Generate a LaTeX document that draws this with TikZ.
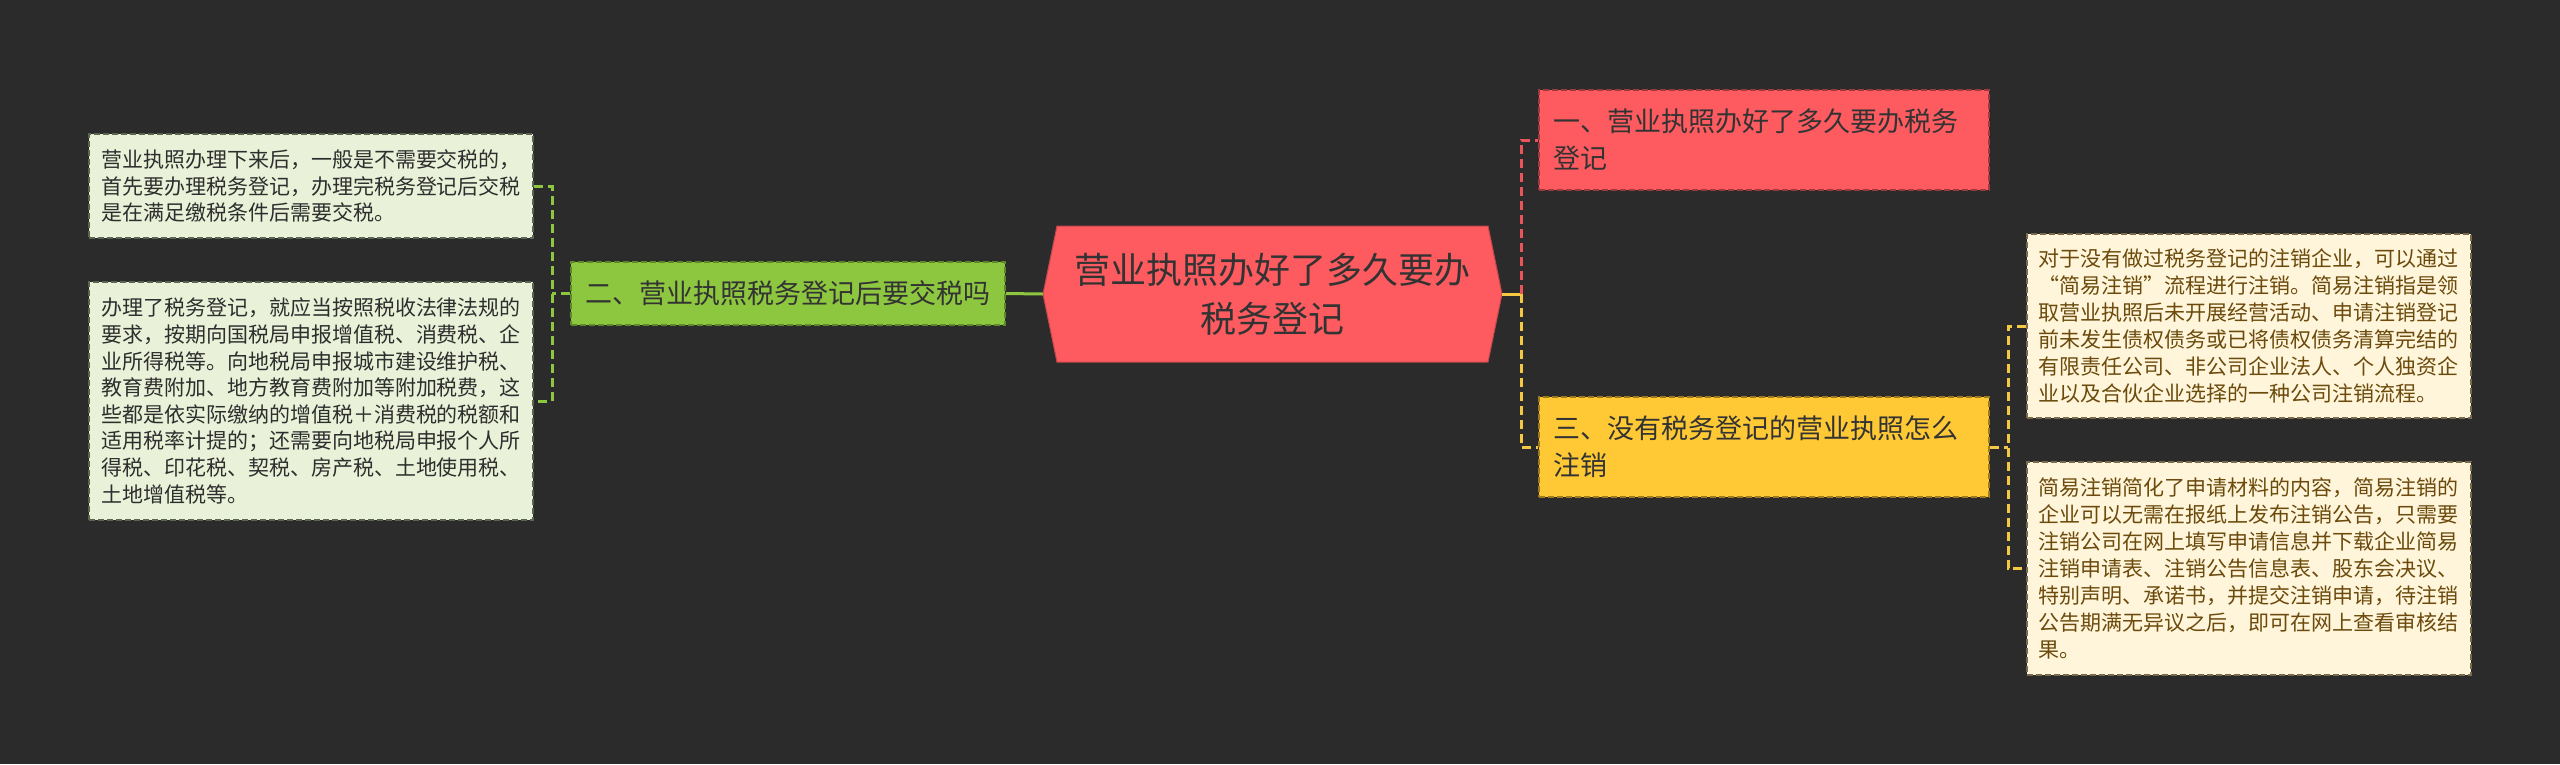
\documentclass[tikz,border=0pt]{standalone}
\usepackage{fontspec}
\setmainfont{Noto Sans CJK SC}
\definecolor{bg}{HTML}{2B2B2B}
\definecolor{redfill}{HTML}{FD5B5F}
\definecolor{redborder}{HTML}{9C3A3D}
\definecolor{greenfill}{HTML}{8DC73F}
\definecolor{greenborder}{HTML}{5E8A25}
\definecolor{yellowfill}{HTML}{FEC935}
\definecolor{yellowborder}{HTML}{9E7B1B}
\definecolor{lboxfill}{HTML}{E9F2D8}
\definecolor{lboxborder}{HTML}{5A6650}
\definecolor{rboxfill}{HTML}{FFF5DA}
\definecolor{rboxborder}{HTML}{7A6A4A}
\definecolor{ltext}{HTML}{2E2E2E}
\definecolor{rtext}{HTML}{6B4A0C}
\definecolor{darktext}{HTML}{333333}
\definecolor{gconn}{HTML}{8DC73F}
\definecolor{rconn}{HTML}{E8555B}
\definecolor{yconn}{HTML}{F5C843}
\begin{document}
\begin{tikzpicture}[x=1pt,y=-1pt,
  boxdash/.style={dash pattern=on 6pt off 3pt, line width=1.5pt},
  leftbox/.style={draw=lboxborder, boxdash, fill=lboxfill, text=ltext,
    text width=420pt, inner xsep=12pt, inner ysep=0pt, align=left,
    font=\fontsize{21}{26.6}\selectfont},
  rightbox/.style={draw=rboxborder, boxdash, fill=rboxfill, text=rtext,
    text width=422pt, inner xsep=11pt, inner ysep=0pt, align=left,
    font=\fontsize{21}{26.9}\selectfont},
  topicbox/.style={boxdash, text=darktext, text width=422pt, inner xsep=14pt,
    inner ysep=0pt, minimum height=100pt, align=left,
    font=\fontsize{27}{37}\selectfont},
  conndash/.style={line width=3pt, dash pattern=on 9pt off 5pt},
  connsolid/.style={line width=3pt}
]
\fill[bg] (0,0) rectangle (2560,764);
\useasboundingbox (0,0) rectangle (2560,764);

% central hexagon
\fill[redfill, draw=redborder!60!redfill, line width=1pt]
  (1043,294) -- (1057,226) -- (1488,226) -- (1502,294) -- (1488,362) -- (1057,362) -- cycle;
\node[minimum width=459pt, minimum height=136pt, inner sep=0pt, align=center,
  text=darktext, font=\fontsize{36}{49}\selectfont] (c) at (1272.5,294)
  {营业执照办好了多久要办\\税务登记};

% left branch
\node[draw=greenborder, boxdash, fill=greenfill, text=darktext,
  minimum width=434pt, minimum height=63pt, inner sep=0pt,
  font=\fontsize{27}{32}\selectfont] (g) at (788,293.5) {二、营业执照税务登记后要交税吗};

\node[leftbox, minimum height=104pt] (l1) at (311,186)
  {营业执照办理下来后，一般是不需要交税的，\\首先要办理税务登记，办理完税务登记后交税\\是在满足缴税条件后需要交税。};
\node[leftbox, minimum height=238pt] (l2) at (311,401)
  {办理了税务登记，就应当按照税收法律法规的\\要求，按期向国税局申报增值税、消费税、企\\业所得税等。向地税局申报城市建设维护税、\\教育费附加、地方教育费附加等附加税费，这\\些都是依实际缴纳的增值税＋消费税的税额和\\适用税率计提的；还需要向地税局申报个人所\\得税、印花税、契税、房产税、土地使用税、\\土地增值税等。};

% right branch
\node[topicbox, draw=redborder, fill=redfill] (r) at (1764,140)
  {一、营业执照办好了多久要办税务\\登记};
\node[topicbox, draw=yellowborder, fill=yellowfill] (y) at (1764,447)
  {三、没有税务登记的营业执照怎么\\注销};

\node[rightbox, minimum height=184pt] (rb1) at (2249,326)
  {对于没有做过税务登记的注销企业，可以通过\\“简易注销”流程进行注销。简易注销指是领\\取营业执照后未开展经营活动、申请注销登记\\前未发生债权债务或已将债权债务清算完结的\\有限责任公司、非公司企业法人、个人独资企\\业以及合伙企业选择的一种公司注销流程。};
\node[rightbox, minimum height=213pt] (rb2) at (2249,568.5)
  {简易注销简化了申请材料的内容，简易注销的\\企业可以无需在报纸上发布注销公告，只需要\\注销公司在网上填写申请信息并下载企业简易\\注销申请表、注销公告信息表、股东会决议、\\特别声明、承诺书，并提交注销申请，待注销\\公告期满无异议之后，即可在网上查看审核结\\果。};

% connectors
\coordinate (jl) at (552,293.5);
\coordinate (jr) at (1521,294);
\coordinate (jy) at (2008,447);

\draw[connsolid, gconn] (c.west) -- (g.east);
\draw[conndash, gconn] (g.west) -- (jl);
\draw[conndash, gconn] (l1.east) -| (jl) |- (l2.east);

\draw[connsolid, yconn] (c.east) -- (jr);
\draw[conndash, rconn] (jr) |- (r.west);
\draw[conndash, yconn] (jr) |- (y.west);

\draw[conndash, yconn] (y.east) -- (jy);
\draw[conndash, yconn] (rb1.west) -| (jy) |- (rb2.west);
\end{tikzpicture}
\end{document}
